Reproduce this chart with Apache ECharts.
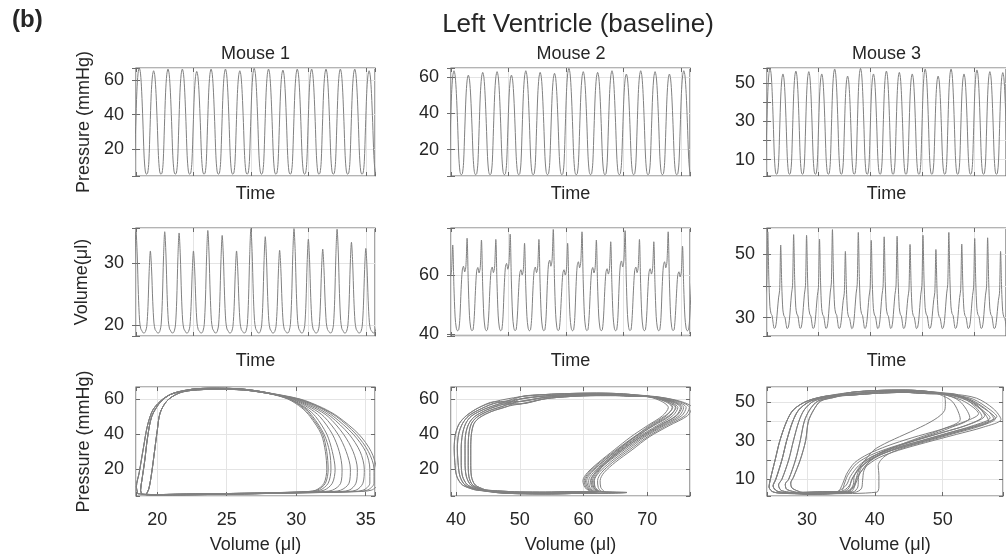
<!DOCTYPE html>
<html>
<head>
<meta charset="utf-8">
<title>Left Ventricle (baseline)</title>
<script src="https://cdn.jsdelivr.net/npm/echarts@6/dist/echarts.min.js"></script>
<style>
  html, body { margin: 0; padding: 0; background: #fff; }
  #main { width: 1006px; height: 560px; }
</style>
</head>
<body>
<div id="main"></div>
<script>
// one beat lasts a quarter of a grid division on the time axes
var beatPeriod = 0.25;

// normalised beat shapes, sampled 12 times per beat, starting at the peak
var pressureShape = [1.0, 0.95, 0.78, 0.50, 0.18, 0.03, 0.0, 0.01, 0.12, 0.45, 0.78, 0.95];
var vol1Shape = [1.0, 0.78, 0.38, 0.12, 0.04, 0.02, 0.0, 0.0, 0.02, 0.08, 0.32, 0.75];
var vol2Shape = [1.0, 0.52, 0.17, 0.04, 0.01, 0.02, 0.16, 0.45, 0.66, 0.70, 0.64, 0.70];
var vol3Shape = [1.0, 0.52, 0.24, 0.17, 0.15, 0.07, 0.02, 0.03, 0.10, 0.24, 0.38, 0.47];

// pressure traces (mmHg): time of first peak, peak of every beat, diastolic level
var p1Start = 0.057;
var p1Peaks = [67.1, 65.4, 66.4, 66.4, 65.0, 66.4, 66.4, 65.4, 66.8, 66.4, 65.8, 66.4, 66.4, 66.4, 66.4, 66.4, 65.4];
var p1Base = 5.4;
var p2Start = 0.052;
var p2Peaks = [63.3, 60.9, 62.4, 62.8, 60.9, 63.3, 62.4, 61.9, 64.6, 62.8, 62.4, 63.3, 61.5, 63.3, 62.8, 61.5, 63.3];
var p2Base = 6.3;
var p3Start = 0.058;
var p3Peaks = [57.6, 54.7, 56.2, 55.9, 54.7, 57.3, 53.6, 57.6, 54.7, 56.2, 55.5, 54.7, 57.3, 53.6, 57.3, 54.7, 56.8, 55.9, 55.4];
var p3Base = 2.4;

// volume traces (ul)
var v1Start = 0.0;
var v1Peaks = [35.1, 32.0, 35.1, 34.9, 32.0, 35.3, 34.5, 32.0, 35.6, 34.3, 32.1, 35.6, 33.9, 32.3, 35.5, 33.4, 32.4];
var v1Base = 18.8;
var v2Start = 0.03;
var v2Peaks = [70.4, 72.7, 72.1, 72.3, 74.1, 71.0, 72.3, 75.7, 71.0, 74.9, 72.1, 71.5, 75.3, 72.3, 71.5, 74.9, 70.0];
var v2Base = 40.8;
var v3Start = 0.015;
var v3Peaks = [57.2, 53.0, 56.3, 56.1, 54.9, 57.9, 51.0, 57.0, 54.5, 55.6, 55.8, 53.2, 56.1, 51.6, 57.0, 53.3, 55.1, 55.3, 51.0];
var v3Base = 26.0;

// pressure-volume loops, [volume, pressure]; each loop = left side + top + right arc + bottom
var pv1Left = [
  [[18.9, 5.6], [18.8, 8], [18.9, 14], [19.1, 25], [19.3, 38], [19.6, 50], [20.2, 58], [21.0, 62.8]],
  [[19.2, 5.5], [19.4, 9], [19.6, 18], [19.8, 30], [20.0, 42], [20.2, 52], [20.7, 59], [21.5, 63.2]],
  [[18.6, 6.0], [18.5, 10], [18.7, 18], [19.0, 32], [19.3, 45], [19.7, 54], [20.4, 60], [21.2, 63.5]]
];
var pv1Top = [
  [[22.5, 65.6], [24.0, 66.2], [26.0, 65.8], [27.8, 63.8]],
  [[22.5, 65.0], [24.2, 65.6], [26.2, 65.2], [28.0, 63.2]]
];
var pv1RightP = [60, 55, 50, 40, 30, 20, 12, 8, 7.1, 6.7];
var pv1RightV = [
  [29.5, 30.5, 31.1, 31.9, 32.2, 32.3, 32.1, 31.5, 30.5, 29.0],
  [29.4, 30.4, 31.0, 31.8, 32.1, 32.2, 32.0, 31.4, 30.4, 28.9],
  [29.5, 30.6, 31.2, 32.0, 32.4, 32.5, 32.3, 31.7, 30.7, 29.2],
  [29.6, 30.7, 31.4, 32.2, 32.6, 32.8, 32.6, 32.0, 31.0, 29.4],
  [29.7, 30.9, 31.7, 32.6, 33.1, 33.3, 33.2, 32.6, 31.5, 29.9],
  [29.8, 31.1, 32.0, 33.0, 33.6, 33.9, 33.8, 33.2, 32.1, 30.4],
  [29.9, 31.3, 32.3, 33.4, 34.1, 34.4, 34.3, 33.8, 32.6, 30.8],
  [30.0, 31.5, 32.5, 33.8, 34.6, 34.9, 34.8, 34.3, 33.1, 31.2],
  [30.1, 31.7, 32.7, 34.1, 35.0, 35.3, 35.3, 34.8, 33.5, 31.6],
  [30.2, 31.8, 32.9, 34.3, 35.2, 35.6, 35.6, 35.1, 33.8, 31.8],
  [30.3, 31.9, 33.0, 34.5, 35.4, 35.8, 35.9, 35.4, 34.0, 32.0]
];
var pv1Bottom = [
  [[27.0, 6.3], [24.0, 6.0], [21.5, 5.7], [19.8, 5.5]],
  [[27.0, 6.0], [24.0, 5.6], [21.5, 5.3], [19.8, 5.2]]
];

var pv2Left = [
  [[43.0, 8.2], [41.0, 11], [40.1, 16], [39.8, 24], [39.7, 32], [39.9, 40], [40.5, 46], [41.6, 50.5], [43.5, 55.0], [46.0, 58.5]],
  [[43.3, 8.2], [41.4, 11], [40.6, 16], [40.3, 24], [40.2, 32], [40.4, 40], [41.0, 46], [42.0, 50.5], [44.0, 54.6], [46.5, 58.0]],
  [[43.6, 8.2], [41.8, 11], [41.0, 16], [40.8, 24], [40.8, 32], [41.0, 40], [41.5, 46], [42.4, 50.3], [44.4, 54.2], [47.0, 57.5]],
  [[44.0, 8.2], [42.3, 11], [41.6, 16], [41.4, 24], [41.4, 32], [41.5, 40], [42.0, 46], [42.9, 50.0], [44.8, 53.8], [47.4, 57.0]],
  [[44.3, 8.2], [42.6, 11], [42.0, 16], [41.9, 24], [41.9, 32], [42.0, 40], [42.4, 46], [43.3, 49.8], [45.2, 53.4], [47.8, 56.5]],
  [[44.6, 8.2], [43.0, 11], [42.4, 16], [42.3, 24], [42.3, 32], [42.4, 40], [42.8, 46], [43.7, 49.5], [45.6, 53.0], [48.2, 56.0]]
];
var pv2Top = [
  [[50, 61.3], [54, 62.6], [58, 63.2], [62, 63.4], [65, 63.2], [67.5, 62.6]],
  [[50, 60.0], [54, 61.8], [58, 62.6], [62, 62.9], [65, 62.7], [67.5, 62.2]],
  [[50, 58.6], [54, 61.0], [58, 62.0], [62, 62.4], [65, 62.3], [67.5, 61.8]],
  [[50, 57.2], [54, 60.2], [58, 61.5], [62, 62.0], [65, 62.0], [67.5, 61.6]]
];
var pv2RightP = [61.2, 58.6, 55.2, 50.5, 44.8, 38.4, 31.0, 24.0, 18.0, 13.5, 9.6, 7.4];
var pv2RightV = [
  [70.3, 72.3, 73.3, 72.4, 70.0, 67.4, 64.8, 62.4, 60.6, 59.9, 60.2, 61.0],
  [70.5, 72.8, 73.9, 73.0, 70.6, 67.9, 65.1, 62.6, 60.8, 60.1, 60.4, 61.2],
  [70.6, 73.0, 74.4, 73.6, 71.0, 68.1, 65.4, 63.0, 61.2, 60.5, 60.8, 61.5],
  [70.8, 73.4, 74.8, 74.0, 71.5, 68.6, 65.8, 63.3, 61.5, 60.8, 61.0, 61.8],
  [71.0, 73.8, 75.2, 74.5, 71.8, 68.9, 66.1, 63.6, 61.8, 61.1, 61.3, 62.0],
  [71.2, 74.2, 75.7, 75.0, 72.3, 69.3, 66.4, 63.8, 62.0, 61.4, 61.6, 62.2],
  [71.4, 74.6, 76.1, 75.4, 72.6, 69.6, 66.8, 64.2, 62.4, 61.7, 61.8, 62.4],
  [71.6, 75.0, 76.6, 75.9, 73.0, 70.0, 67.2, 64.6, 62.8, 62.2, 62.3, 62.8],
  [71.8, 75.3, 77.0, 76.3, 73.4, 70.3, 67.6, 65.0, 63.2, 62.6, 62.7, 63.2],
  [71.2, 73.6, 74.5, 73.4, 70.8, 68.4, 65.6, 63.4, 61.8, 61.2, 61.5, 62.3],
  [70.9, 73.2, 74.0, 72.8, 70.3, 68.0, 65.3, 62.9, 61.0, 60.3, 60.6, 61.4],
  [71.3, 74.0, 75.4, 74.6, 72.0, 69.0, 66.0, 63.6, 62.2, 61.6, 61.8, 62.6]
];
var pv2Bottom = [
  [[58, 6.6], [54, 6.3], [50, 6.4], [46.5, 7.0]],
  [[58, 7.2], [54, 6.9], [50, 7.0], [46.5, 7.6]],
  [[58, 6.1], [54, 5.9], [50, 6.0], [46.5, 6.6]],
  [[64.5, 6.9], [66.8, 6.7], [63.5, 6.3], [58, 6.2], [54, 6.0], [50, 6.2], [46.5, 6.8]]
];

var pv3Left = [
  [[27.0, 2.6], [25.0, 3.4], [24.4, 6], [24.6, 10], [25.3, 20], [26.0, 30], [27.0, 40], [28.0, 46], [30.0, 50.5], [33.0, 53.2]],
  [[27.5, 2.8], [25.6, 3.8], [25.0, 6.5], [25.4, 10], [26.3, 20], [27.0, 30], [27.9, 40], [28.8, 46], [30.5, 50.5], [33.2, 53.0]],
  [[28.0, 3.0], [26.2, 4.2], [25.8, 7], [26.3, 10], [27.3, 20], [28.0, 30], [28.8, 40], [29.6, 46], [31.0, 50.5], [33.5, 52.8]],
  [[28.5, 3.2], [27.0, 4.8], [26.8, 7.5], [27.3, 10], [28.3, 20], [29.0, 30], [29.6, 40], [30.4, 46], [31.6, 50.5], [33.8, 52.6]],
  [[29.0, 3.4], [27.8, 5.4], [27.6, 8], [28.0, 11], [29.0, 20], [29.8, 30], [30.2, 40], [31.0, 46], [32.0, 50.5], [34.0, 52.4]]
];
var pv3Top = [
  [[36.5, 55.0], [40.5, 56.0], [44.5, 56.2], [47.5, 55.6]],
  [[36.5, 54.2], [40.5, 55.3], [44.5, 55.6], [47.5, 55.0]],
  [[36.5, 53.6], [40.5, 54.6], [44.5, 55.0], [47.5, 54.4]]
];
var pv3Right = [
  [[51.5, 54.2], [55, 52], [57.5, 46.5], [58.6, 41.0], [56, 37.0], [52, 33.2], [47.5, 29.0], [43.5, 25.0], [40.5, 21.0], [38.5, 16], [37.3, 10.5], [36.8, 6], [35.6, 3.5]],
  [[51, 54], [54, 51.5], [56.5, 46], [57.5, 41.5], [55, 37.5], [51, 33.5], [47, 29.5], [43, 25.5], [40, 21.5], [38, 16.5], [36.8, 11], [36.2, 6.5], [35, 3.6]],
  [[51, 54], [53.8, 51.2], [56, 45.5], [57, 41.8], [54.5, 37.8], [50.6, 33.8], [46.6, 29.8], [42.6, 25.8], [39.6, 21.8], [37.6, 17], [36.4, 11.5], [35.8, 7], [34.6, 3.8]],
  [[50.5, 54], [53.5, 51], [55.5, 46.5], [56.2, 43], [54, 38.5], [50.2, 34.5], [46.2, 30.5], [42.4, 26.5], [39.4, 22.5], [37.3, 18], [36, 12], [35.5, 7.5], [35, 3.4]],
  [[50, 54], [52.8, 51], [54.6, 47], [55.3, 44], [53, 39.5], [49.5, 35.5], [45.5, 31.5], [41.8, 27.2], [39, 23], [37, 18.5], [35.8, 12.5], [35.3, 8], [34.5, 3.6]],
  [[50, 54], [52.5, 50.5], [54, 42], [51, 36.5], [47.8, 32.5], [44.5, 28.5], [41.5, 25], [39.5, 21], [38, 16], [37.6, 11], [37.5, 6], [36.8, 3.4]],
  [[49.5, 54], [51.5, 50], [52.6, 41], [50, 36], [46.5, 31.5], [43.5, 27.5], [41, 23.5], [39.3, 19.5], [38.4, 14.5], [38.2, 9.5], [38, 5], [37, 3.2]],
  [[50, 54.5], [50.4, 50], [50.3, 45.7], [40.2, 26], [38.8, 21], [37.8, 16], [37.3, 11], [37, 6.5], [36, 3.4]],
  [[51, 54.5], [54, 51], [56.8, 45], [57.8, 41.5], [55.5, 37.5], [51.5, 33.5], [47.5, 29.5], [44, 26], [41.5, 22], [40.5, 17], [40.6, 12], [40.6, 6], [40.3, 3.3]],
  [[51.2, 54], [54.5, 51.5], [57, 46], [58, 42.5], [55.5, 38.5], [51.5, 34.5], [47.5, 30.5], [44, 27], [41, 23], [39, 18.5], [37.8, 13], [37.2, 8], [36.5, 3.6]],
  [[51, 53.8], [54, 51], [56, 45], [56.8, 40.0], [54, 36.5], [50, 32.5], [46, 28.5], [42.4, 24.8], [39.6, 20.5], [37.7, 15.5], [36.6, 10], [36.2, 5.5], [35.2, 3.4]],
  [[50.8, 54], [53.6, 51], [55.2, 46], [55.8, 42.5], [53.5, 38], [49.8, 34], [46, 30], [42.6, 26.2], [39.8, 22], [38, 17.5], [37, 12], [36.8, 7], [36, 3.5]]
];
var pv3Bottom = [
  [[33, 2.9], [30, 2.6]],
  [[33, 3.5], [30, 3.2]],
  [[33, 2.4], [30, 2.2]]
];

function buildTrace(start, peaks, base, shape) {
  var pts = [];
  var n = shape.length;
  for (var i = -1; i < peaks.length; i++) {
    var a = peaks[Math.max(i, 0)];
    var b = peaks[Math.min(i + 1, peaks.length - 1)];
    for (var k = 0; k < n; k++) {
      var amp = k <= n / 2 ? a : b;
      pts.push([start + (i + k / n) * beatPeriod, base + (amp - base) * shape[k]]);
    }
  }
  return pts;
}

function arcsFromLevels(levels, vols) {
  return vols.map(function (row) {
    return row.map(function (v, k) { return [v, levels[k]]; });
  });
}

function buildLoops(left, top, right, bottom) {
  return right.map(function (arc, i) {
    var l = left[i % left.length];
    var pts = [].concat(l, top[i % top.length], arc, bottom[i % bottom.length]);
    pts.push(l[0]);
    return pts;
  });
}

var textColor = '#262626';
var frameColor = '#6b6b6b';
var traceColor = '#808080';
var fontFamily = 'Liberation Sans, Arial, Helvetica, sans-serif';

var colLeft = [136, 451, 767];
var colWidth = 239;
var rowTop = [68, 228, 387];
var rowHeight = [108, 108, 109];

function labelFilter(list) {
  return function (v) {
    if (!list) return '';
    for (var i = 0; i < list.length; i++) {
      if (Math.abs(v - list[i]) < 1e-6) return String(list[i]);
    }
    return '';
  };
}

var grids = [], xAxes = [], yAxes = [], series = [];

function addPanel(row, col, xc, yc, lines) {
  var g = grids.length;
  grids.push({
    left: colLeft[col], top: rowTop[row], width: colWidth, height: rowHeight[row],
    show: true, borderColor: frameColor, borderWidth: 1.2, backgroundColor: '#fff'
  });
  var tick = {show: true, inside: true, length: 4, lineStyle: {color: frameColor}};
  var nameStyle = {fontSize: 18, color: textColor, fontFamily: fontFamily};
  var ax = xAxes.length;
  xAxes.push({
    type: 'value', gridIndex: g, min: xc.min, max: xc.max, interval: xc.interval, splitNumber: xc.splitNumber,
    position: 'bottom', axisLine: {show: false}, axisTick: tick,
    axisLabel: {show: !!xc.labels, margin: 15, fontSize: 18, color: textColor, fontFamily: fontFamily, formatter: labelFilter(xc.labels)},
    splitLine: {show: true, lineStyle: {color: '#e4e4e4', width: 1}},
    name: xc.name, nameLocation: 'middle', nameGap: xc.nameGap, nameTextStyle: nameStyle
  });
  xAxes.push({
    type: 'value', gridIndex: g, min: xc.min, max: xc.max, interval: xc.interval, splitNumber: xc.splitNumber,
    position: 'top', axisLine: {show: false}, axisTick: tick, axisLabel: {show: false}, splitLine: {show: false}
  });
  var ay = yAxes.length;
  yAxes.push({
    type: 'value', gridIndex: g, min: yc.min, max: yc.max, splitNumber: yc.splitNumber,
    position: 'left', axisLine: {show: false}, axisTick: tick,
    axisLabel: {margin: 12, fontSize: 18, color: textColor, fontFamily: fontFamily, formatter: labelFilter(yc.labels)},
    splitLine: {show: true, lineStyle: {color: '#e4e4e4', width: 1}},
    name: yc.name, nameLocation: 'middle', nameGap: yc.nameGap, nameTextStyle: nameStyle
  });
  yAxes.push({
    type: 'value', gridIndex: g, min: yc.min, max: yc.max, splitNumber: yc.splitNumber,
    position: 'right', axisLine: {show: false}, axisTick: tick, axisLabel: {show: false}, splitLine: {show: false}
  });
  lines.forEach(function (pts) {
    series.push({
      type: 'line', xAxisIndex: ax, yAxisIndex: ay, data: pts,
      showSymbol: false, smooth: 0.3, silent: true,
      lineStyle: {color: traceColor, width: 1}
    });
  });
}

var timeA = {min: 0, max: 4.16, interval: 1, name: 'Time', nameGap: 9};
var timeB = {min: 0, max: 4.16, interval: 1, name: 'Time', nameGap: 16};
var timeA3 = {min: 0, max: 4.62, interval: 1, name: 'Time', nameGap: 9};
var timeB3 = {min: 0, max: 4.62, interval: 1, name: 'Time', nameGap: 16};

// row 1: pressure vs time
addPanel(0, 0, timeA, {min: 4.35, max: 67, splitNumber: 3, labels: [20, 40, 60], name: 'Pressure (mmHg)', nameGap: 43},
  [buildTrace(p1Start, p1Peaks, p1Base, pressureShape)]);
addPanel(0, 1, timeA, {min: 5.6, max: 64.8, splitNumber: 3, labels: [20, 40, 60]},
  [buildTrace(p2Start, p2Peaks, p2Base, pressureShape)]);
addPanel(0, 2, timeA3, {min: 1.5, max: 57.8, splitNumber: 5, labels: [10, 30, 50]},
  [buildTrace(p3Start, p3Peaks, p3Base, pressureShape)]);

// row 2: volume vs time
addPanel(1, 0, timeB, {min: 18.3, max: 35.7, splitNumber: 2, labels: [20, 30], name: 'Volume(\u03bcl)', nameGap: 45},
  [buildTrace(v1Start, v1Peaks, v1Base, vol1Shape)]);
addPanel(1, 1, timeB, {min: 39.3, max: 76.2, splitNumber: 2, labels: [40, 60]},
  [buildTrace(v2Start, v2Peaks, v2Base, vol2Shape)]);
addPanel(1, 2, timeB3, {min: 24.2, max: 58.4, splitNumber: 3, labels: [30, 50]},
  [buildTrace(v3Start, v3Peaks, v3Base, vol3Shape)]);

// row 3: pressure-volume loops
addPanel(2, 0, {min: 18.47, max: 35.67, splitNumber: 3, labels: [20, 25, 30, 35], name: 'Volume (\u03bcl)', nameGap: 40},
  {min: 4.7, max: 66.9, splitNumber: 3, labels: [20, 40, 60], name: 'Pressure (mmHg)', nameGap: 43},
  buildLoops(pv1Left, pv1Top, arcsFromLevels(pv1RightP, pv1RightV), pv1Bottom));
addPanel(2, 1, {min: 39.2, max: 76.7, splitNumber: 4, labels: [40, 50, 60, 70], name: 'Volume (\u03bcl)', nameGap: 40},
  {min: 4.7, max: 66.9, splitNumber: 3, labels: [20, 40, 60]},
  buildLoops(pv2Left, pv2Top, arcsFromLevels(pv2RightP, pv2RightV), pv2Bottom));
addPanel(2, 2, {min: 24.1, max: 58.9, splitNumber: 3, labels: [30, 40, 50], name: 'Volume (\u03bcl)', nameGap: 40},
  {min: 1.3, max: 57.8, splitNumber: 5, labels: [10, 30, 50]},
  buildLoops(pv3Left, pv3Top, pv3Right, pv3Bottom));

var myChart = echarts.init(document.getElementById('main'));
var titleStyle = {fontSize: 18, fontWeight: 'normal', color: textColor, fontFamily: fontFamily};
option = {
  animation: false,
  backgroundColor: '#fff',
  title: [
    {text: '(b)', left: 12, top: 8, padding: 0, textStyle: {fontSize: 24, fontWeight: 'bold', color: textColor, fontFamily: fontFamily}},
    {text: 'Left Ventricle (baseline)', left: 578, top: 12, padding: 0, textAlign: 'center',
      textStyle: {fontSize: 26, fontWeight: 'normal', color: textColor, fontFamily: fontFamily}},
    {text: 'Mouse 1', left: 255.5, top: 45, padding: 0, textAlign: 'center', textStyle: titleStyle},
    {text: 'Mouse 2', left: 571, top: 45, padding: 0, textAlign: 'center', textStyle: titleStyle},
    {text: 'Mouse 3', left: 886.5, top: 45, padding: 0, textAlign: 'center', textStyle: titleStyle}
  ],
  grid: grids,
  xAxis: xAxes,
  yAxis: yAxes,
  series: series
};
myChart.setOption(option);
</script>
</body>
</html>
